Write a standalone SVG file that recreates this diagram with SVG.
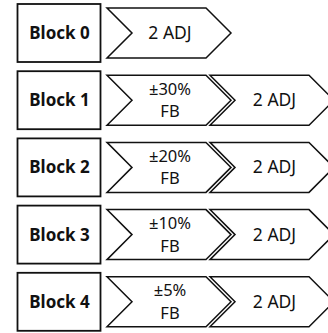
<svg xmlns="http://www.w3.org/2000/svg" xmlns:xlink="http://www.w3.org/1999/xlink" width="328" height="333" viewBox="0 0 328 333">
  <style>
    .box { fill: #fff; stroke: #111; stroke-width: 1.8; }
    .chev { fill: #fff; stroke: #111; stroke-width: 1.5; stroke-linejoin: miter; }
    .lbl { font-family: "Noto Sans", "Liberation Sans", sans-serif; font-weight: bold; font-size: 17px; fill: #111; text-anchor: middle; }
    .txt { font-family: "Noto Sans", "Liberation Sans", sans-serif; font-size: 17.5px; fill: #111; text-anchor: middle; }
    .two { font-size: 16.5px; }
  </style>
  <defs>
    <!-- chevron shape centred vertically on y=0 -->
    <path id="chevron" d="M0,-25 L99,-25 L124,0 L99,25 L0,25 L25,0 Z"/>
  </defs>
  <rect width="328" height="333" fill="#fff"/>

  <g id="block0" transform="translate(0,33)">
    <rect class="box" x="17.5" y="-29" width="83" height="58"/>
    <text class="lbl" x="59.5" y="6">Block 0</text>
    <use xlink:href="#chevron" class="chev" x="107"/>
    <text class="txt" x="170" y="6">2 ADJ</text>
  </g>

  <g id="block1" transform="translate(0,100.2)">
    <rect class="box" x="17.5" y="-29" width="83" height="58"/>
    <text class="lbl" x="59.5" y="6">Block 1</text>
    <use xlink:href="#chevron" class="chev" x="107"/>
    <text class="txt two" x="170" y="-5.5">±30%</text>
    <text class="txt two" x="170" y="17">FB</text>
    <use xlink:href="#chevron" class="chev" x="210"/>
    <text class="txt" x="274.5" y="6">2 ADJ</text>
  </g>

  <g id="block2" transform="translate(0,167.4)">
    <rect class="box" x="17.5" y="-29" width="83" height="58"/>
    <text class="lbl" x="59.5" y="6">Block 2</text>
    <use xlink:href="#chevron" class="chev" x="107"/>
    <text class="txt two" x="170" y="-5.5">±20%</text>
    <text class="txt two" x="170" y="17">FB</text>
    <use xlink:href="#chevron" class="chev" x="210"/>
    <text class="txt" x="274.5" y="6">2 ADJ</text>
  </g>

  <g id="block3" transform="translate(0,234.6)">
    <rect class="box" x="17.5" y="-29" width="83" height="58"/>
    <text class="lbl" x="59.5" y="6">Block 3</text>
    <use xlink:href="#chevron" class="chev" x="107"/>
    <text class="txt two" x="170" y="-5.5">±10%</text>
    <text class="txt two" x="170" y="17">FB</text>
    <use xlink:href="#chevron" class="chev" x="210"/>
    <text class="txt" x="274.5" y="6">2 ADJ</text>
  </g>

  <g id="block4" transform="translate(0,301.8)">
    <rect class="box" x="17.5" y="-29" width="83" height="58"/>
    <text class="lbl" x="59.5" y="6">Block 4</text>
    <use xlink:href="#chevron" class="chev" x="107"/>
    <text class="txt two" x="170" y="-5.5">±5%</text>
    <text class="txt two" x="170" y="17">FB</text>
    <use xlink:href="#chevron" class="chev" x="210"/>
    <text class="txt" x="274.5" y="6">2 ADJ</text>
  </g>

  <g id="connectors"></g>
</svg>
